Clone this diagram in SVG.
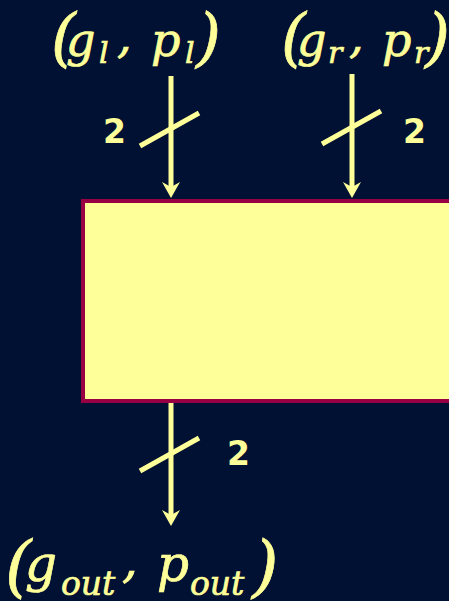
<svg xmlns="http://www.w3.org/2000/svg" width="449" height="601" viewBox="0 0 449 601">
<style>
.m{font-family:"DejaVu Serif","Liberation Serif",serif;font-style:italic;fill:#FFFF99;stroke:#FFFF99;stroke-width:0.7}
.n{font-family:"DejaVu Sans","Liberation Sans",sans-serif;font-weight:bold;font-size:33px;fill:#FFFF99}
.w{stroke:#FFFF99;stroke-width:5;fill:none}
.h{fill:#FFFF99}
</style>
<rect width="449" height="601" fill="#001133"/>
<g id="box">
<rect x="83" y="201" width="380" height="200" fill="#FFFF99" stroke="#990044" stroke-width="4"/>
</g>
<g id="connectors">
<line class="w" x1="171" y1="76" x2="171" y2="190"/>
<path class="h" d="M171,198 L162,182 L171,187 L180,182 Z"/>
<line class="w" x1="140" y1="146" x2="199" y2="113"/>
<line class="w" x1="352" y1="74" x2="352" y2="190"/>
<path class="h" d="M352,198 L343,182 L352,187 L361,182 Z"/>
<line class="w" x1="322" y1="144" x2="381" y2="111"/>
<line class="w" x1="171" y1="403" x2="171" y2="518"/>
<path class="h" d="M171,526 L162,510 L171,515 L180,510 Z"/>
<line class="w" x1="140" y1="471" x2="199" y2="438"/>
</g>
<g id="label-in-left">
<text class="m"><tspan x="51" y="59" font-size="64">(</tspan><tspan x="66" y="56" font-size="46">g</tspan><tspan x="99" y="63" font-size="30">l</tspan><tspan x="117" y="52" font-size="46">,</tspan><tspan x="151" y="56" font-size="46">p</tspan><tspan x="185" y="63" font-size="30">l</tspan><tspan x="196" y="59" font-size="64">)</tspan></text>
<text class="n" x="103" y="143">2</text>
</g>
<g id="label-in-right">
<text class="m"><tspan x="281" y="59" font-size="64">(</tspan><tspan x="297" y="56" font-size="46">g</tspan><tspan x="328" y="63" font-size="30">r</tspan><tspan x="349" y="52" font-size="46">,</tspan><tspan x="382" y="56" font-size="46">p</tspan><tspan x="414" y="63" font-size="30">r</tspan><tspan x="425" y="59" font-size="64">)</tspan></text>
<text class="n" x="403" y="143">2</text>
</g>
<g id="label-out">
<text class="m"><tspan x="5" y="589" font-size="68">(</tspan><tspan x="25" y="581" font-size="50">g</tspan><tspan x="61" y="595" font-size="33">out</tspan><tspan x="122" y="577" font-size="50">,</tspan><tspan x="157" y="581" font-size="50">p</tspan><tspan x="190" y="595" font-size="33">out</tspan><tspan x="252" y="589" font-size="68">)</tspan></text>
<text class="n" x="227" y="465">2</text>
</g>
</svg>
